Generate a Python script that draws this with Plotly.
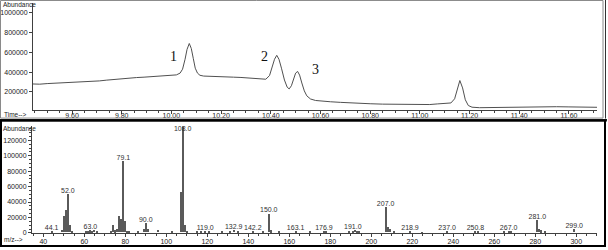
import plotly.graph_objects as go

# ---------------- data: chromatogram (TIC) ----------------
time_min = [9.443, 9.47, 9.50, 9.53, 9.56, 9.59, 9.62, 9.65, 9.68, 9.71, 9.74, 9.77, 9.80,
            9.83, 9.86, 9.89, 9.92, 9.95, 9.98, 10.00, 10.02, 10.035, 10.045, 10.055, 10.063,
            10.072, 10.08, 10.088, 10.096, 10.105, 10.115, 10.13, 10.16, 10.19, 10.22, 10.25,
            10.28, 10.31, 10.34, 10.365, 10.38, 10.395, 10.405, 10.415, 10.424, 10.433, 10.443,
            10.455, 10.466, 10.474, 10.483, 10.492, 10.50, 10.508, 10.516, 10.525, 10.535,
            10.545, 10.56, 10.58, 10.60, 10.64, 10.68, 10.72, 10.76, 10.80, 10.85, 10.90, 10.95,
            11.00, 11.04, 11.07, 11.10, 11.125, 11.14, 11.15, 11.161, 11.172, 11.183, 11.195,
            11.21, 11.24, 11.28, 11.32, 11.36, 11.40, 11.45, 11.50, 11.55, 11.60, 11.65, 11.70,
            11.713]
tic_abundance = [280000, 278000, 284000, 287000, 293000, 296000, 301000, 302000, 307000, 311000,
                 319000, 327000, 333000, 339000, 345000, 349000, 355000, 359000, 366000, 367000,
                 372000, 390000, 430000, 530000, 630000, 690000, 640000, 540000, 440000, 390000,
                 368000, 360000, 359000, 355000, 353000, 349000, 346000, 339000, 334000, 324000,
                 328000, 365000, 440000, 530000, 570000, 530000, 440000, 320000, 248000, 230000,
                 262000, 330000, 390000, 407000, 370000, 290000, 210000, 160000, 128000, 113000,
                 107000, 100000, 94000, 88000, 84000, 80000, 76000, 73000, 71000, 70000, 72000,
                 78000, 82000, 88000, 130000, 230000, 315000, 240000, 120000, 62000, 45000, 40000,
                 41000, 44000, 47000, 50000, 52000, 51000, 50000, 48000, 47000, 45000, 44000]
peak_names = ["1", "2", "3"]

# ---------------- data: mass spectrum ----------------
mz = [44.1, 49, 50, 51, 52.0, 53, 54, 61, 62, 63.0, 64, 65, 66, 73, 74, 75, 76, 77, 78, 79.1,
      80, 81, 82, 86, 89, 90.0, 91, 96, 103, 107, 108.0, 109, 110, 115, 117, 119.0, 121, 127,
      131, 132.9, 135, 142.2, 147, 150.0, 151, 155, 163.1, 170, 176.9, 178, 189, 191.0, 192,
      193, 194, 207.0, 208, 209, 211, 218.9, 225, 237.0, 250.8, 252, 265, 267.0, 268, 281.0,
      282, 283, 285, 299.0]
intensity = [900, 3500, 21000, 28500, 50000, 9000, 1200, 1500, 2200, 2500, 1800, 2600, 1200,
             1000, 9500, 2500, 4000, 21500, 17500, 92000, 15000, 1500, 1000, 800, 4000, 12000,
             5000, 3000, 800, 53000, 140000, 10000, 1200, 800, 900, 1500, 1000, 800, 1200, 3000,
             1000, 1000, 1200, 24500, 2500, 800, 1000, 600, 1200, 700, 1000, 2200, 2800, 1500,
             800, 33000, 7000, 4000, 1000, 900, 500, 900, 900, 600, 1000, 1800, 1200, 16000,
             4500, 2500, 700, 4300]
labeled_mz = [44.1, 52.0, 63.0, 79.1, 90.0, 108.0, 119.0, 132.9, 142.2, 150.0, 163.1, 176.9,
              191.0, 207.0, 218.9, 237.0, 250.8, 267.0, 281.0, 299.0]
labeled_text = ["44.1", "52.0", "63.0", "79.1", "90.0", "108.0", "119.0", "132.9", "142.2",
                "150.0", "163.1", "176.9", "191.0", "207.0", "218.9", "237.0", "250.8", "267.0",
                "281.0", "299.0"]

W, H = 608, 250
def px(x):
    return x / W
def py(y):
    return 1 - y / H

TICKFONT = dict(family="Liberation Sans, Arial, sans-serif", size=7, color="#222222")
LINEC = "#404040"

Y2_MAX = 138000
lookup = dict(zip(mz, intensity))
label_y = [min(lookup[m], 129500) for m in labeled_mz]

fig = go.Figure()
fig.add_trace(go.Scatter(x=time_min, y=tic_abundance, mode="lines",
                         line=dict(color="#505050", width=1), xaxis="x", yaxis="y",
                         showlegend=False, hoverinfo="skip"))
fig.add_trace(go.Bar(x=mz, y=intensity, width=0.55, marker=dict(color="#5a5a5a", line=dict(width=0)),
                     xaxis="x2", yaxis="y2", showlegend=False, hoverinfo="skip"))
fig.add_trace(go.Scatter(x=labeled_mz, y=label_y, mode="text", text=labeled_text,
                         textposition="top center",
                         textfont=dict(family="Liberation Sans, Arial, sans-serif", size=7,
                                       color="#303030"),
                         xaxis="x2", yaxis="y2", showlegend=False, hoverinfo="skip", cliponaxis=False))

axis_common = dict(showline=True, linecolor=LINEC, linewidth=1, showgrid=False, zeroline=False,
                   ticks="outside", ticklen=3, tickcolor=LINEC, tickfont=TICKFONT)

fig.update_layout(
    width=W, height=H, margin=dict(l=0, r=0, t=0, b=0),
    paper_bgcolor="white", plot_bgcolor="white", bargap=0,
    xaxis=dict(domain=[px(33), px(597)], range=[9.443, 11.713], anchor="y",
               tickvals=[9.6, 9.8, 10.0, 10.2, 10.4, 10.6, 10.8, 11.0, 11.2, 11.4, 11.6],
               tickformat=".2f", ticklabelstandoff=-4,
               minor=dict(dtick=0.05, tick0=9.6, ticks="outside", ticklen=2, tickcolor=LINEC),
               **axis_common),
    yaxis=dict(domain=[py(111), py(3)], range=[20000, 1100000], anchor="x",
               tickvals=[200000, 400000, 600000, 800000, 1000000], tickformat="d",
               **axis_common),
    xaxis2=dict(domain=[px(32), px(597)], range=[34.5, 310.1], anchor="y2",
                tickvals=list(range(40, 301, 20)), ticklabelstandoff=-2,
                minor=dict(dtick=5, tick0=40, ticks="outside", ticklen=2, tickcolor=LINEC),
                **axis_common),
    yaxis2=dict(domain=[py(236), py(128)], range=[-400, Y2_MAX], anchor="x2",
                tickvals=list(range(0, 120001, 20000)), tickformat="d",
                minor=dict(dtick=5000, ticks="outside", ticklen=2, tickcolor=LINEC),
                **axis_common),
)

small = dict(family="Liberation Sans, Arial, sans-serif", size=6.5, color="#222222")
anns = [
    dict(text="Abundance", x=px(1), y=py(5), xanchor="left", yanchor="middle", font=small),
    dict(text="Time-->", x=px(2), y=py(116), xanchor="left", yanchor="middle", font=small),
    dict(text="Abundance", x=px(1), y=py(130), xanchor="left", yanchor="middle", font=small),
    dict(text="m/z-->", x=px(2), y=py(242), xanchor="left", yanchor="middle", font=small),
]
peak_font = dict(family="Liberation Serif, Times New Roman, serif", size=14, color="#111111")
for name, (xx, yy) in zip(peak_names, [(173.3, 57), (264.3, 57.5), (315.5, 70.5)]):
    anns.append(dict(text=name, x=px(xx), y=py(yy), xanchor="center", yanchor="middle", font=peak_font))
for a in anns:
    a.update(xref="paper", yref="paper", showarrow=False)
fig.update_layout(annotations=anns)

shapes = [
    dict(type="rect", x0=px(0.5), x1=px(603), y0=py(0.5), y1=py(119.5), line=dict(color="#8a8a8a", width=1)),
    dict(type="line", x0=px(605.5), x1=px(605.5), y0=py(0), y1=py(120), line=dict(color="#333333", width=1)),
    dict(type="rect", x0=px(0), x1=px(607), y0=py(120.5), y1=py(123), fillcolor="#1c1c1c", line=dict(width=0)),
    dict(type="rect", x0=px(1), x1=px(605), y0=py(122), y1=py(249), line=dict(color="#000000", width=2)),
]
for s in shapes:
    s.update(xref="paper", yref="paper", layer="above")
fig.update_layout(shapes=shapes)

fig.write_html("out.html")
